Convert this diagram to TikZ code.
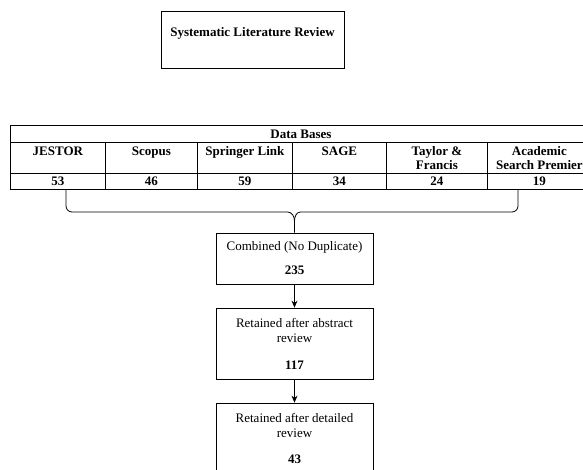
\documentclass[tikz,border=0pt]{standalone}
\usepackage{fontspec}
\setmainfont{Liberation Serif}
\usetikzlibrary{positioning,arrows.meta}

\tikzset{
  cell/.style={draw,rectangle,inner sep=0pt,anchor=north west,font=\fontsize{13pt}{14pt}\selectfont\bfseries},
  namecell/.style={cell,align=center,minimum height=31},
  numcell/.style={cell,minimum height=16},
  flowbox/.style={draw,rectangle,align=center,minimum width=157,inner sep=0pt}
}

\begin{document}
\begin{tikzpicture}[x=1pt,y=-1pt,>={Stealth[length=7pt,width=6pt]},line width=0.8pt,font=\fontsize{13pt}{15pt}\selectfont]
            \useasboundingbox (0,0) rectangle (583,469);
            \clip (0,0) rectangle (583,469);
            % title
            \node[draw,rectangle,minimum width=183,minimum height=57,inner sep=0pt,text depth=15pt,font=\fontsize{13pt}{15pt}\selectfont\bfseries] (slr) at (252.5,39.5) {Systematic Literature Review};
            % data bases table
            \node[cell,minimum width=581,minimum height=17] (bases) at (10,125) {Data Bases};
            \node[namecell,minimum width=95] (jestor) at (10,142) {JESTOR\\\mbox{}};
            \node[namecell,minimum width=92] (scopus) at (105,142) {Scopus\\\mbox{}};
            \node[namecell,minimum width=95] (springer) at (197,142) {Springer Link\\\mbox{}};
            \node[namecell,minimum width=94] (sage) at (292,142) {SAGE\\\mbox{}};
            \node[namecell,minimum width=101] (taylor) at (386,142) {Taylor \&\\Francis};
            \node[namecell,minimum width=104] (academic) at (487,142) {Academic\\Search Premier};
            \node[numcell,minimum width=95] (n1) at (10,173) {53};
            \node[numcell,minimum width=92] (n2) at (105,173) {46};
            \node[numcell,minimum width=95] (n3) at (197,173) {59};
            \node[numcell,minimum width=94] (n4) at (292,173) {34};
            \node[numcell,minimum width=101] (n5) at (386,173) {24};
            \node[numcell,minimum width=104] (n6) at (487,173) {19};
            % flow
            \node[flowbox,minimum height=51] (comb) at (294.5,258.5) {Combined (No Duplicate)\\[9pt]\textbf{235}};
            \node[flowbox,minimum height=71] (abstr) at (294.5,343.5) {Retained after abstract\\review\\[12pt]\textbf{117}};
            \node[flowbox,minimum height=71] (detail) at (294.5,438.5) {Retained after detailed\\review\\[11pt]\textbf{43}};
            % brace
            \coordinate (braceL) at (66,189);
            \coordinate (braceR) at (518,189);
            \coordinate (braceM) at (comb.north |- 0,221);
            \draw (braceL) -- (66,206) to[out=-90,in=180] (72,212) -- (287.5,212) to[out=0,in=90] (braceM) -- (comb.north);
            \draw (braceR) -- (518,206) to[out=-90,in=0] (512,212) -- (300.5,212) to[out=180,in=90] (braceM);
            \draw[->] (comb) -- (abstr);
            \draw[->] (abstr) -- (detail);
        \end{tikzpicture}
\end{document}
